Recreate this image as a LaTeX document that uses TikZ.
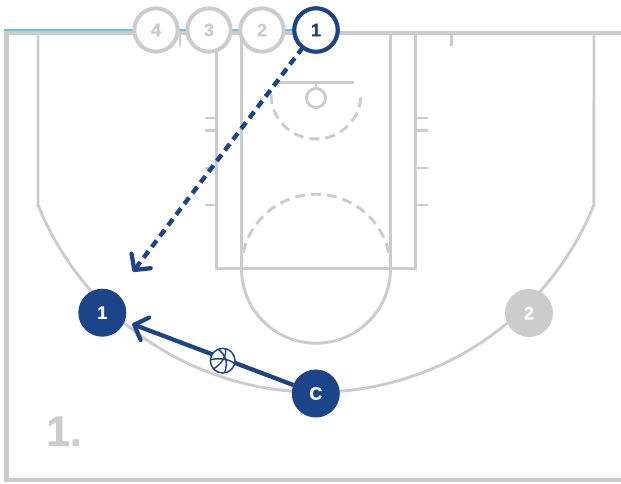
\documentclass[tikz,border=0pt]{standalone}
\usepackage{fontspec}
\setmainfont{Liberation Sans}[BoldFeatures={FakeBold=1}]
\usetikzlibrary{arrows.meta}
\definecolor{court}{HTML}{CCCCCC}
\definecolor{navy}{HTML}{1C4489}
\definecolor{cyanline}{HTML}{5CC8DC}
\tikzset{
  courtline/.style={draw=court,line width=2.2pt},
  courtthick/.style={draw=court,line width=3.6pt},
  courtdash/.style={courtline,dash pattern=on 7.5pt off 4.5pt},
  ghost/.style={circle,draw=court,fill=white,line width=3pt,minimum size=32.5pt,inner sep=0pt,outer sep=0pt,text=court,font=\bfseries\fontsize{13.5}{14}\selectfont},
  active/.style={ghost,draw=navy,text=navy},
  player/.style={circle,draw=none,fill=navy,minimum size=36pt,inner sep=0pt,outer sep=0pt,text=white,font=\bfseries\fontsize{13.5}{14}\selectfont},
  playerghost/.style={player,fill=court},
  barb/.style={-{Straight Barb[length=8.5pt,width=18pt,line width=3.2pt,round]}},
  cut/.style={draw=navy,line width=3.3pt,dash pattern=on 6pt off 4.1pt,barb},
  pass/.style={draw=navy,line width=3.2pt,barb},
  ballline/.style={draw=navy,line width=1.1pt}
}
\begin{document}
\begin{tikzpicture}[x=0.75pt,y=-0.75pt]
\useasboundingbox (0,0) rectangle (621,483);
% cyan strip
\draw[cyanline,line width=0.9pt] (4,30) -- (300,30);
% boundary
\draw[courtthick] (621,33) -- (6.5,33) -- (6.5,480) -- (621,480);
% three point line
\draw[courtline] (38,33) -- (38,205) arc[start angle=157.9,end angle=22.1,radius=300] -- (594,33);
% lane
\draw[courtline] (216.7,33) -- (216.7,268.7) -- (415.7,268.7) -- (415.7,33);
\draw[courtline] (241.7,33) -- (241.7,268.7);
\draw[courtline] (390.7,33) -- (390.7,268.7);
% free throw circle
\draw[courtline] (241.5,268.7) arc[start angle=180,end angle=0,radius=74.5];
\draw[courtdash] (241.5,268.7) arc[start angle=180,end angle=360,radius=74.5];
% lane hash marks
\foreach \yy in {118,130.7,168,205}{
  \draw[courtline] (205,\yy) -- (216.7,\yy);
  \draw[courtline] (415.7,\yy) -- (427.5,\yy);
}
% top ticks
\draw[courtline] (180,33) -- (180,46);
\draw[courtline] (451.7,33) -- (451.7,46);
% backboard and hoop
\draw[courtline] (278,82.7) -- (354,82.7);
\draw[courtline] (316,82.7) -- (316,88.5);
\draw[courtline] (316,98) circle[radius=9.5];
\draw[courtdash] (271,94) arc[start angle=180,end angle=0,radius=45];
% nodes
\coordinate (cutend) at (133,271.7);
\node[active] (t1) at (316,30) {};
\draw[cut] (t1) -- (cutend);
\node[ghost] (t4) at (156,30) {4};
\node[ghost] (t3) at (209,30) {3};
\node[ghost] (t2) at (262,30) {2};
\node[active] (t1b) at (316,30) {1};
\node[player] (p1) at (102.3,312.7) {1};
\node[playerghost] (p2) at (529,313) {2};
\node[player] (c) at (315.8,393.5) {C};
\draw[pass,shorten >=6pt] (c) -- (p1);
% ball
\begin{scope}[shift={(222.7,360.7)}]
\node[circle,draw=navy,fill=white,line width=1.1pt,minimum size=18.5pt,inner sep=0pt,outer sep=0pt] (ball) at (0,0) {};
\draw[ballline] (-12,-1) .. controls (-4,-3) and (6,-2) .. (12,3);
\draw[ballline] (-4,-11) .. controls (2,-6) and (6,-1) .. (2,12);
\draw[ballline] (3,-12) .. controls (4,-4) and (-2,4) .. (-9,8);
\end{scope}
% label
\node[anchor=base west,inner sep=0pt,text=court,font=\bfseries\fontsize{32}{34}\selectfont] (lab) at (46,446) {1.};
\end{tikzpicture}
\end{document}
